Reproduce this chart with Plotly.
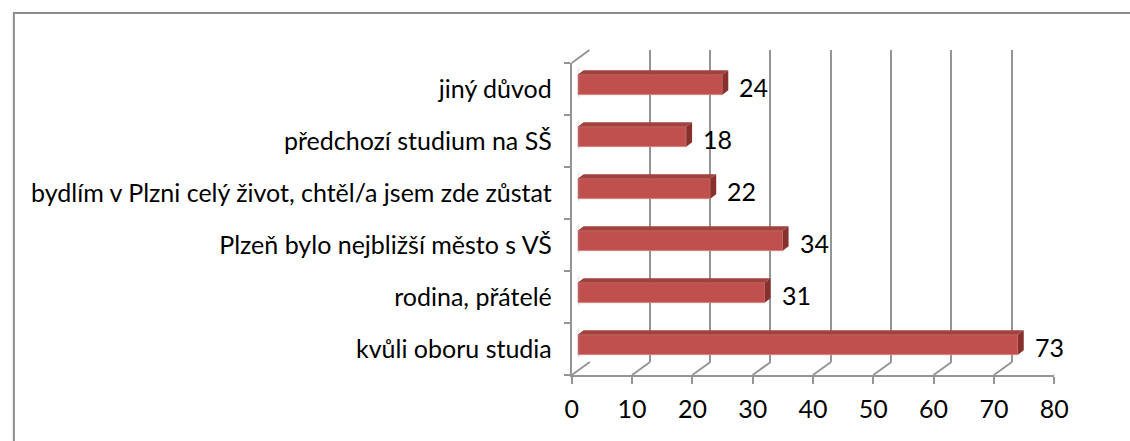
import plotly.graph_objects as go

W, H = 1130, 441

categories = [
    "kvůli oboru studia",
    "rodina, přátelé",
    "Plzeň bylo nejbližší město s VŠ",
    "bydlím v Plzni celý život, chtěl/a jsem zde zůstat",
    "předchozí studium na SŠ",
    "jiný důvod",
]
values = [73, 31, 34, 22, 18, 24]
x_ticks = [0, 10, 20, 30, 40, 50, 60, 70, 80]

FONT = "Lato"
FS = 25
GRID = "#959595"
FRONT = "#C0504D"
TOP = "#A2413E"
SIDE = "#87302E"

# pixel frame of the 3d box (front-left-bottom corner and depth offset)
X0, X1 = 576, 1068      # front floor edge, value 0 .. 80
Y_TOP, Y_BOT = 63, 375  # front left wall
DX, DY = 18, 13         # depth of the box
BAR_W = 0.385


def px(x):
    return x / W


def py(y):
    return 1 - y / H


xmax = x_ticks[-1]
n = len(categories)
unit_x = (X1 - X0) / xmax          # pixels per value
unit_y = (Y_BOT - Y_TOP) / n
# bars sit between 1/3 and 2/3 of the depth
bdx, bdy = DX / 3, DY / 3
ddx = bdx / unit_x                 # bar depth in data units
ddy = bdy / unit_y
idx = list(range(n))

fig = go.Figure()

# back wall (x / y subplot, shifted by the full depth) - drawn first
fig.add_trace(go.Scatter(x=[None], y=[None], xaxis="x", yaxis="y",
                         showlegend=False, hoverinfo="skip"))

# left wall soft shadow next to the bars
for i in idx:
    fig.add_trace(go.Scatter(
        x=[-0.25, -0.25], y=[i - BAR_W / 2 - 0.05, i + BAR_W / 2 + ddy + 0.05],
        xaxis="x2", yaxis="y2", mode="lines",
        line=dict(color="rgba(160,160,160,0.22)", width=7),
        showlegend=False, hoverinfo="skip"))

# bar top and side faces
top_x, top_y, side_x, side_y = [], [], [], []
for i, v in zip(idx, values):
    t = i + BAR_W / 2
    b = i - BAR_W / 2
    top_x += [0, v, v + ddx, ddx, 0, None]
    top_y += [t, t, t + ddy, t + ddy, t, None]
    side_x += [v, v + ddx, v + ddx, v, v, None]
    side_y += [b, b + ddy, t + ddy, t, b, None]

fig.add_trace(go.Scatter(x=top_x, y=top_y, xaxis="x2", yaxis="y2",
                         fill="toself", fillcolor=TOP, mode="lines",
                         line=dict(width=0, color=TOP),
                         showlegend=False, hoverinfo="skip"))
fig.add_trace(go.Scatter(x=side_x, y=side_y, xaxis="x2", yaxis="y2",
                         fill="toself", fillcolor=SIDE, mode="lines",
                         line=dict(width=0, color=SIDE),
                         showlegend=False, hoverinfo="skip"))

# front faces
fig.add_trace(go.Bar(
    x=values, y=idx, orientation="h", width=BAR_W,
    xaxis="x2", yaxis="y2",
    marker=dict(color=FRONT, line=dict(color="#D98886", width=0.8)),
    showlegend=False, hoverinfo="skip",
))

# front axes carrier (category labels + value ticks)
fig.add_trace(go.Scatter(x=[None] * n, y=categories, mode="lines",
                         xaxis="x3", yaxis="y3", showlegend=False,
                         hoverinfo="skip"))

annotations = []
for i, v in zip(idx, values):
    annotations.append(dict(
        x=v, y=i, xref="x2", yref="y2", text=str(v), showarrow=False,
        xanchor="left", yanchor="middle", xshift=bdx + 9, yshift=-2,
        font=dict(family=FONT, size=FS, color="black"),
    ))

shapes = []
# floor diagonals
for t in x_ticks:
    shapes.append(dict(
        type="line", xref="x3", xsizemode="pixel", xanchor=t, x0=0, x1=DX,
        yref="paper", y0=py(Y_BOT), y1=py(Y_BOT - DY),
        line=dict(color=GRID, width=2), layer="below"))
# left wall top edge
shapes.append(dict(type="line", xref="paper", yref="paper",
                   x0=px(X0), y0=py(Y_TOP), x1=px(X0 + DX), y1=py(Y_TOP - DY),
                   line=dict(color=GRID, width=2), layer="below"))
# outer chart border
shapes.append(dict(type="rect", xref="paper", yref="paper",
                   x0=px(7), y0=py(13), x1=1.05, y1=-0.05,
                   line=dict(color="#8c8c8c", width=2)))

fig.update_layout(
    width=W, height=H,
    margin=dict(l=0, r=0, t=0, b=0),
    paper_bgcolor="white", plot_bgcolor="rgba(0,0,0,0)",
    font=dict(family=FONT, size=FS, color="black"),
    showlegend=False,
    # back wall gridlines
    xaxis=dict(domain=[px(X0 + DX), px(X1 + DX)], range=[0, xmax],
               tickvals=x_ticks, showgrid=True, gridcolor=GRID, gridwidth=2,
               showticklabels=False, zeroline=False, showline=False,
               anchor="y"),
    yaxis=dict(domain=[py(Y_BOT - DY), py(Y_TOP - DY)], range=[0, 1],
               showgrid=False, showticklabels=False, zeroline=False,
               anchor="x"),
    # bars at one third of the depth
    xaxis2=dict(domain=[px(X0 + bdx), px(X1 + bdx)], range=[0, xmax],
                anchor="y2", visible=False),
    yaxis2=dict(domain=[py(Y_BOT - bdy), py(Y_TOP - bdy)],
                range=[-0.5, n - 0.5], anchor="x2", visible=False),
    # front axes
    xaxis3=dict(domain=[px(X0), px(X1)], range=[0, xmax], tickvals=x_ticks,
                showgrid=False, zeroline=False, showline=True,
                linecolor=GRID, linewidth=2, ticks="outside", ticklen=7,
                tickwidth=2, tickcolor=GRID, ticklabelstandoff=4,
                tickfont=dict(family=FONT, size=FS), anchor="y3"),
    yaxis3=dict(domain=[py(Y_BOT), py(Y_TOP)], type="category",
                categoryorder="array", categoryarray=categories,
                range=[-0.5, n - 0.5], autorange=False,
                tickson="boundaries", ticks="outside", ticklen=6,
                tickwidth=2, tickcolor=GRID, showline=True, linecolor=GRID,
                linewidth=2, showgrid=False, zeroline=False,
                ticklabelstandoff=13, tickfont=dict(family=FONT, size=FS),
                anchor="x3"),
    annotations=annotations,
    shapes=shapes,
)

fig.write_html("out.html", config={"displayModeBar": False},
               post_script="document.body.style.margin='0';")
